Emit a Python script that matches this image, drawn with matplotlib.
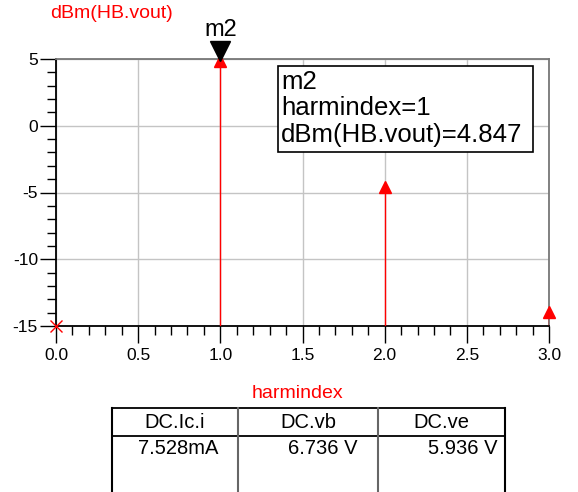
import matplotlib.pyplot as plt
from matplotlib.patches import Rectangle

plt.rcParams['font.family'] = ['Liberation Sans', 'DejaVu Sans']
plt.rcParams['axes.unicode_minus'] = False

# harmonic balance spectrum of the output node
harmindex = [0, 1, 2, 3]
dbm_vout = [-15.0, 4.847, -4.6, -13.95]

# marker m2 sits on the fundamental
marker_idx = 1

# DC operating point table
dc_names = ["DC.Ic.i", "DC.vb", "DC.ve"]
dc_values = ["7.528mA", "6.736 V", "5.936 V"]

W, H = 578, 492
fig = plt.figure(figsize=(W / 100, H / 100), dpi=100)

# plot area in pixels: left 56, right 549, top 59, bottom 326
ax = fig.add_axes([56 / W, (H - 326) / H, 493 / W, 267 / H])
ax.set_xlim(0, 3)
ax.set_ylim(-15, 5)

ax.set_xticks([0, 0.5, 1, 1.5, 2, 2.5, 3])
ax.set_xticklabels(["0.0", "0.5", "1.0", "1.5", "2.0", "2.5", "3.0"])
ax.set_xticks([i / 10 for i in range(31)], minor=True)
ax.set_yticks([-15, -10, -5, 0, 5])
ax.set_yticks(range(-15, 6), minor=True)

ax.tick_params(axis="both", which="major", direction="out", length=11.5,
               width=1, labelsize=12.5, color="black")
ax.tick_params(axis="x", which="major", length=12, pad=3.5)
ax.tick_params(axis="y", which="major", pad=1.5)
ax.tick_params(axis="both", which="minor", direction="out", length=6.5,
               width=1, color="black")

ax.grid(True, which="major", color="#c4c4c4", linewidth=1)
ax.set_axisbelow(True)

for side in ["top", "right"]:
    ax.spines[side].set_color("#777777")
    ax.spines[side].set_linewidth(1.3)
for side in ["left", "bottom"]:
    ax.spines[side].set_color("black")
    ax.spines[side].set_linewidth(1.3)

# spectral lines from the floor up to each level
for x, y in zip(harmindex, dbm_vout):
    if y <= -15:
        ax.plot(x, y, marker="x", color="red", markersize=9, mew=1,
                clip_on=False, zorder=5)
    else:
        ax.vlines(x, -15, y, color="red", linewidth=1, zorder=4)
        ax.plot(x, y, marker="^", color="red", markersize=8,
                clip_on=False, zorder=5)

# marker triangle and name above the plot
mx = harmindex[marker_idx]
ax.plot(mx, 5.62, marker="v", color="black", markersize=14.5,
        clip_on=False, zorder=6)
ax.text(mx, 7.2, "m2", ha="center", va="center", fontsize=17,
        color="black", clip_on=False)

fig.text(50 / W, 1 - 14 / H, "dBm(HB.vout)", color="red", fontsize=14,
         ha="left", va="center")
fig.text(297 / W, 1 - 393 / H, "harmindex", color="red", fontsize=14,
         ha="center", va="center")

# marker readout box
bx0, by0, bx1, by1 = 278, 66, 533, 152
fig.patches.append(Rectangle((bx0 / W, 1 - by1 / H), (bx1 - bx0) / W,
                             (by1 - by0) / H, transform=fig.transFigure,
                             facecolor="white", edgecolor="black",
                             linewidth=1.2, zorder=10))
readout = ["m2", "harmindex=%d" % mx,
           "dBm(HB.vout)=%.3f" % dbm_vout[marker_idx]]
for i, line in enumerate(readout):
    fig.text(281 / W, 1 - (82 + 26.5 * i) / H, line, fontsize=18.5,
             ha="left", va="center", zorder=11)

# DC table
tx0, tx1, ty0, ty_mid = 112, 505, 408, 436
col_edges = [112, 238, 378, 505]
tab = fig.add_axes([0, 0, 1, 1], facecolor="none")
tab.set_xlim(0, W)
tab.set_ylim(H, 0)
tab.axis("off")
tab.plot([tx0, tx1], [ty0, ty0], color="black", linewidth=1.3)
tab.plot([tx0, tx1], [ty_mid, ty_mid], color="black", linewidth=1.3)
for j, xe in enumerate(col_edges):
    c = "black" if j in (0, len(col_edges) - 1) else "#666666"
    tab.plot([xe, xe], [ty0, H], color=c, linewidth=1.5)
for j in range(len(dc_names)):
    xc = (col_edges[j] + col_edges[j + 1]) / 2
    tab.text(xc, 422, dc_names[j], ha="center", va="center", fontsize=14.5)
value_right = [218, 358, 498]
for j, v in enumerate(dc_values):
    tab.text(value_right[j], 448, v, ha="right", va="center", fontsize=14.5)

fig.savefig("out.png", dpi=100)
